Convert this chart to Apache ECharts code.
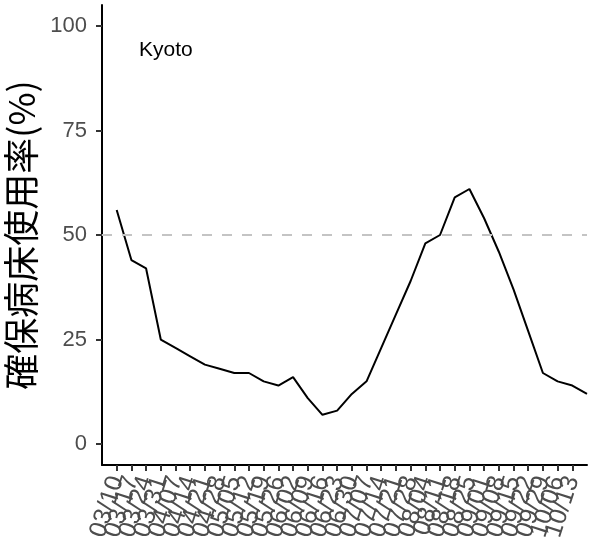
<!DOCTYPE html>
<html>
<head>
<meta charset="utf-8">
<script src="https://cdn.jsdelivr.net/npm/echarts@6/dist/echarts.min.js"></script>
<style>
  html, body { margin: 0; padding: 0; background: #fff; }
  #chart { width: 596px; height: 548px; }
</style>
</head>
<body>
<div id="chart"></div>
<script>
// 週ごとの日付 (先頭は空き, 最後の10/20にはラベルなし)
const dates = ["", "03/10", "03/17", "03/24", "03/31", "04/07", "04/14", "04/21", "04/28",
  "05/05", "05/12", "05/19", "05/26", "06/02", "06/09", "06/16", "06/23", "06/30",
  "07/07", "07/14", "07/21", "07/28", "08/04", "08/11", "08/18", "08/25", "09/01",
  "09/08", "09/15", "09/22", "09/29", "10/06", "10/13", "10/20"]
const lastLabel = "10/13"
// 確保病床使用率(%)
const usage = [56, 44, 42, 25, 23, 21, 19, 18, 17, 17, 15, 14, 16, 11, 7, 8, 12,
  15, 23, 31, 39, 48, 50, 59, 61, 54, 46, 37, 27, 17, 15, 14, 12]
const yTicks = [0, 25, 50, 75, 100]
const threshold = 50
const region = "Kyoto"

const lastIdx = dates.indexOf(lastLabel)
const hasLabel = (i) => i > 0 && i <= lastIdx

let myChart = echarts.init(document.getElementById("chart"))
myChart.setOption({
  animation: false,
  title: {
    text: region,
    left: 134,
    top: 35,
    textStyle: { fontSize: 21, fontWeight: "normal", color: "#000", fontFamily: "Liberation Sans" },
  },
  grid: { left: 102, right: 9, top: 5, bottom: 83, outerBoundsMode: "none" },
  xAxis: {
    type: "category",
    data: dates,
    boundaryGap: false,
    axisLine: { onZero: false, lineStyle: { color: "#000", width: 2 } },
    axisTick: { interval: (i) => hasLabel(i), length: 6, lineStyle: { color: "#333", width: 2 } },
    axisLabel: {
      interval: 0,
      rotate: 72,
      margin: 12,
      fontSize: 25,
      color: "#4d4d4d",
      fontFamily: "Liberation Sans",
      formatter: (v, i) => (hasLabel(i) ? v : ""),
    },
  },
  yAxis: {
    type: "value",
    min: -5,
    max: 105,
    name: "確保病床使用率(%)",
    nameLocation: "middle",
    nameGap: 62,
    nameTextStyle: { fontSize: 36, color: "#000", fontFamily: "Noto Sans CJK JP" },
    splitLine: { show: false },
    axisLine: { show: true, lineStyle: { color: "#000", width: 2 } },
    axisTick: { show: true, customValues: yTicks, length: 6, lineStyle: { color: "#333", width: 2 } },
    axisLabel: {
      customValues: yTicks,
      margin: 15,
      fontSize: 22,
      color: "#4d4d4d",
      fontFamily: "Liberation Sans",
    },
  },
  series: [
    {
      type: "line",
      data: usage.map((v, i) => [i + 1, v]),
      showSymbol: false,
      lineStyle: { color: "#000", width: 2 },
      markLine: {
        silent: true,
        symbol: "none",
        label: { show: false },
        lineStyle: { color: "#c4c4c4", type: [10, 10], width: 2 },
        data: [{ yAxis: threshold }],
      },
    },
  ],
})
</script>
</body>
</html>
